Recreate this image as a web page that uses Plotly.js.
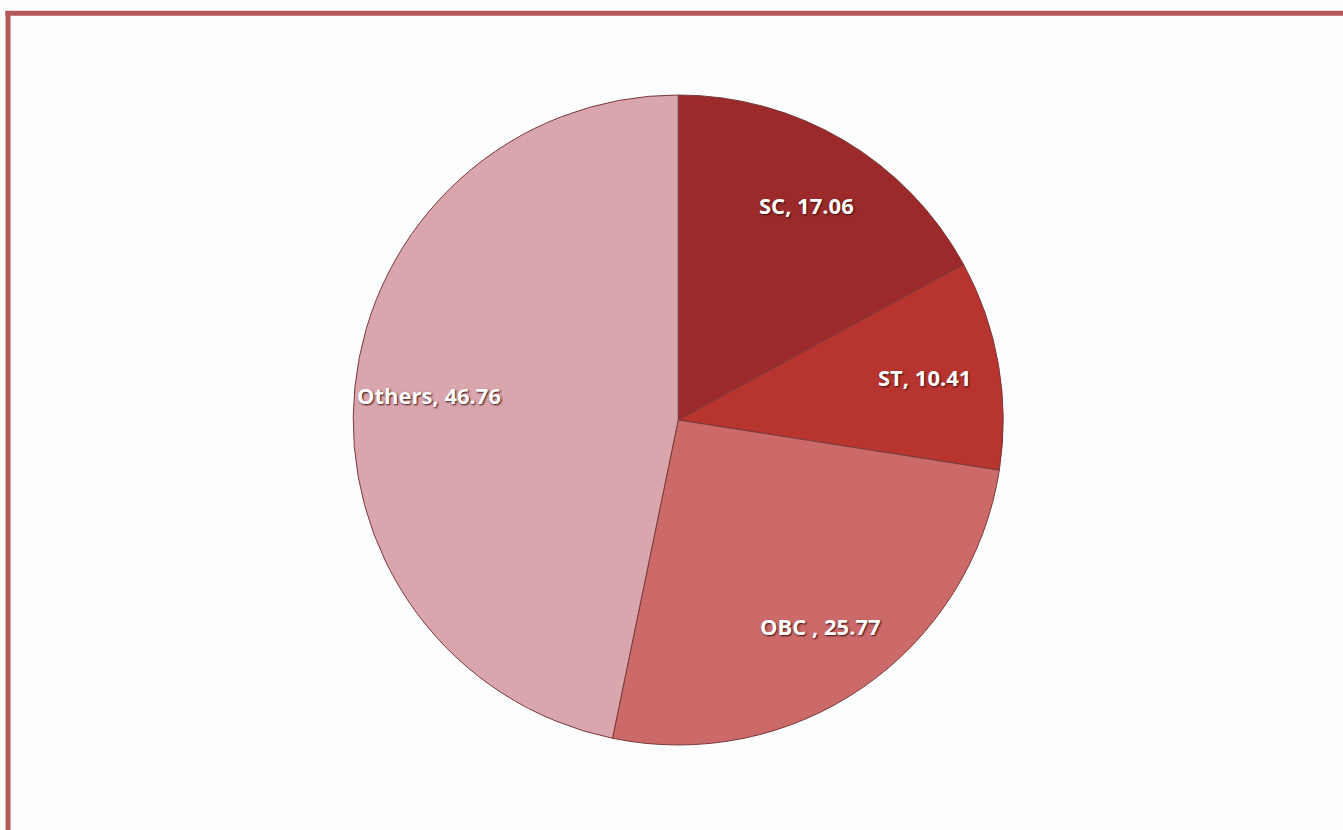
<!DOCTYPE html>
<html>
<head>
<meta charset="utf-8">
<script src="https://cdn.plot.ly/plotly-3.0.1.min.js"></script>
<style>html,body{margin:0;padding:0;background:#fbfdfe;}#chart{width:1343px;height:830px;}</style>
</head>
<body>
<div id="chart"></div>
<script>
const categories = ['SC', 'ST', 'OBC ', 'Others'];
const shares = [17.06, 10.41, 25.77, 46.76];
const sliceColors = ['#9c2a2a', '#b8342f', '#cc6a6a', '#d9a6ad'];

const W = 1343, H = 830;
const dom = {x: [0.263, 0.747], y: [0.102, 0.886]};

const trace = {
  type: 'pie',
  labels: categories,
  values: shares,
  sort: false,
  direction: 'clockwise',
  rotation: 0,
  marker: {colors: sliceColors, line: {color: '#7a3a3a', width: 1}},
  textinfo: 'none',
  hoverinfo: 'label+value',
  showlegend: false,
  domain: dom
};

// label placement along each slice's mid-angle (derived from the data)
const total = shares.reduce((a, b) => a + b, 0);
const cx = (dom.x[0] + dom.x[1]) / 2, cy = (dom.y[0] + dom.y[1]) / 2;
const rPx = Math.min((dom.x[1] - dom.x[0]) * W, (dom.y[1] - dom.y[0]) * H) / 2;
const labelFrac = 0.77;
let cum = 0;
const annotations = shares.map((v, i) => {
  const mid = (cum + v / 2) / total * 2 * Math.PI;
  cum += v;
  return {
    xref: 'paper', yref: 'paper',
    x: cx + rPx * labelFrac * Math.sin(mid) / W,
    y: cy + rPx * labelFrac * Math.cos(mid) / H,
    text: categories[i] + ', ' + v.toFixed(2),
    showarrow: false, xanchor: 'center', yanchor: 'middle',
    font: {family: 'Open Sans, sans-serif', size: 22, color: '#ffffff', weight: 'bold', shadow: '1px 1px 2px #3a1010'}
  };
});

const layout = {
  width: W, height: H,
  margin: {l: 0, r: 0, t: 0, b: 0},
  paper_bgcolor: '#fbfdfe',
  plot_bgcolor: '#fbfdfe',
  annotations: annotations,
  shapes: [
    {type: 'line', xref: 'paper', yref: 'paper', x0: 0.004, x1: 1, y0: 0.984, y1: 0.984, line: {color: '#b5585a', width: 5}},
    {type: 'line', xref: 'paper', yref: 'paper', x0: 0.006, x1: 0.006, y0: 0, y1: 0.986, line: {color: '#b5585a', width: 5}}
  ]
};

Plotly.newPlot('chart', [trace], layout, {displayModeBar: false, staticPlot: true});
</script>
</body>
</html>
